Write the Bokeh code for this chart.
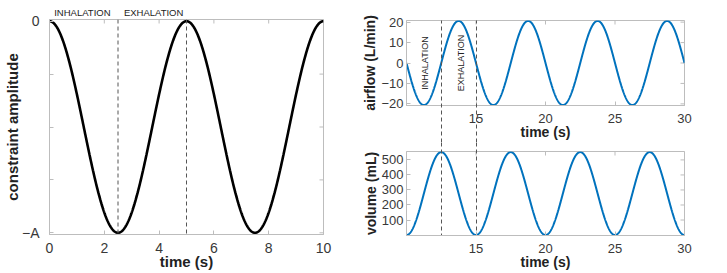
import numpy as np
from bokeh.plotting import figure
from bokeh.layouts import row, column
from bokeh.models import (FixedTicker, Label, LinearAxis, Range1d, Span,
                          CustomLabelingPolicy)
from bokeh.embed import file_html
from bokeh.resources import INLINE

# ---------------- data ----------------
# left panel: constraint amplitude, a cosine between 0 and -A
left_period = 5.0            # s
left_amplitude = 1.0         # "A"
left_t_start = 0.0
left_t_end = 10.0
left_xticks = [0, 2, 4, 6, 8, 10]
left_yticks = [-1.0, -0.75, -0.5, -0.25, 0.0]
left_ytick_labels = ["−A", "", "", "", "0"]
left_phase_lines = [2.5, 5.0]
left_phase_label_t = [1.2, 3.8]
phase_names = ["INHALATION", "EXHALATION"]

# right panels: airflow and volume
resp_period = 5.0            # s
resp_t_start = 10.0
resp_t_end = 30.0
airflow_amplitude = 20.6     # L/min
airflow_limit = 20.8
volume_peak = 552.0          # mL
volume_limit = 556.0
right_xticks = [15, 20, 25, 30]
airflow_yticks = [-20, -10, 0, 10, 20]
volume_yticks = [100, 200, 300, 400, 500]
right_phase_lines = [12.5, 15.0]
right_phase_label_t = [11.3, 13.9]

# ---------------- styling ----------------
FONT = "Liberation Sans"
TICK_COLOR = "#383838"
BOX_COLOR = "#bdbdbd"
BLUE = "#0072BD"
DASH_COLOR = "#555555"
DASH = "4 3"
HIDE_ALL = CustomLabelingPolicy(code="return new Set()")


def style(p, xlabel, ylabel, tick_size="13px", label_size="14px"):
    p.xgrid.visible = False
    p.ygrid.visible = False
    p.outline_line_color = BOX_COLOR
    p.outline_line_width = 1
    p.background_fill_color = "white"
    p.border_fill_color = "white"
    for ax in (p.xaxis[0], p.yaxis[0]):
        ax.axis_line_color = BOX_COLOR
        ax.major_tick_line_color = BOX_COLOR
        ax.major_tick_in = 4
        ax.major_tick_out = 0
        ax.minor_tick_line_color = None
        ax.major_label_text_font = FONT
        ax.major_label_text_font_size = tick_size
        ax.major_label_text_color = TICK_COLOR
        ax.axis_label_text_font = FONT
        ax.axis_label_text_font_size = label_size
        ax.axis_label_text_font_style = "bold"
        ax.axis_label_text_color = "#222222"
    p.xaxis[0].axis_label = xlabel
    p.yaxis[0].axis_label = ylabel
    p.xaxis[0].major_label_standoff = 8
    p.xaxis[0].axis_label_standoff = -2
    p.yaxis[0].major_label_standoff = 3
    p.yaxis[0].axis_label_standoff = 0


def box_ticks(p, xticks, yticks):
    # inward tick marks on the top and right edges of the box
    top = p.y_range.end
    right = p.x_range.end
    p.scatter(xticks, [top] * len(xticks), marker="dash", angle=np.pi / 2,
              size=8, line_color=BOX_COLOR, line_width=1)
    p.scatter([right] * len(yticks), yticks, marker="dash",
              size=8, line_color=BOX_COLOR, line_width=1)


def dashed_axis(ticks, tick_in, tick_out):
    ax = LinearAxis(ticker=FixedTicker(ticks=ticks))
    ax.axis_line_color = None
    ax.major_tick_line_color = DASH_COLOR
    ax.major_tick_line_dash = DASH
    ax.major_tick_line_width = 1
    ax.major_tick_in = tick_in
    ax.major_tick_out = tick_out
    ax.minor_tick_line_color = None
    ax.major_label_text_font_size = "0px"
    ax.major_label_standoff = 0
    ax.major_label_policy = HIDE_ALL
    return ax


# ---------------- left panel ----------------
t_left = np.linspace(left_t_start, left_t_end, 801)
constraint = -left_amplitude * (1 - np.cos(2 * np.pi * t_left / left_period)) / 2

p1 = figure(width=359, height=272, output_backend="svg", toolbar_location=None,
            x_range=Range1d(left_t_start, left_t_end),
            y_range=Range1d(-left_amplitude * 1.008, 0.008),
            min_border_left=41, min_border_right=36,
            min_border_top=19, min_border_bottom=37)
style(p1, "time (s)", "constraint amplitude", tick_size="14px", label_size="15px")
p1.xaxis[0].major_label_standoff = 8
p1.xaxis[0].axis_label_standoff = -3
p1.yaxis[0].major_label_standoff = 10
p1.yaxis[0].axis_label_standoff = -2
p1.xaxis[0].ticker = FixedTicker(ticks=left_xticks)
p1.yaxis[0].ticker = FixedTicker(ticks=left_yticks)
p1.yaxis[0].major_label_overrides = {v: s for v, s in zip(left_yticks, left_ytick_labels)}
box_ticks(p1, left_xticks, left_yticks)

phase_axis = LinearAxis(ticker=FixedTicker(ticks=left_phase_label_t))
phase_axis.major_label_overrides = {v: s for v, s in zip(left_phase_label_t, phase_names)}
phase_axis.axis_line_color = None
phase_axis.major_tick_line_color = None
phase_axis.minor_tick_line_color = None
phase_axis.major_tick_out = 0
phase_axis.major_tick_in = 0
phase_axis.major_label_standoff = 2
phase_axis.major_label_text_font = FONT
phase_axis.major_label_text_font_size = "9.5px"
phase_axis.major_label_text_color = "#222222"
p1.add_layout(phase_axis, "above")

for tv in left_phase_lines:
    p1.add_layout(Span(location=tv, dimension="height", line_color=DASH_COLOR,
                       line_width=1, line_dash=DASH))
p1.line(t_left, constraint, line_color="black", line_width=2.6)

# ---------------- right top: airflow ----------------
t_resp = np.linspace(resp_t_start, resp_t_end, 1601)
airflow = -airflow_amplitude * np.sin(2 * np.pi * (t_resp - resp_t_start) / resp_period)
volume = volume_peak * (1 - np.cos(2 * np.pi * (t_resp - resp_t_start) / resp_period)) / 2

TOP_H, TOP_TOP, TOP_XAXIS = 142, 20, 37
TOP_FRAME = TOP_H - TOP_TOP - TOP_XAXIS
p2 = figure(width=335, height=TOP_H, output_backend="svg", toolbar_location=None,
            x_range=Range1d(resp_t_start, resp_t_end),
            y_range=Range1d(-airflow_limit, airflow_limit),
            min_border_left=43, min_border_right=10,
            min_border_top=TOP_TOP, min_border_bottom=TOP_XAXIS)
style(p2, "time (s)", "airflow (L/min)")
p2.xaxis[0].ticker = FixedTicker(ticks=right_xticks)
p2.yaxis[0].ticker = FixedTicker(ticks=airflow_yticks)
box_ticks(p2, right_xticks, airflow_yticks)
p2.add_layout(dashed_axis(right_phase_lines, TOP_XAXIS + TOP_FRAME, 0), "below")
p2.line(t_resp, airflow, line_color=BLUE, line_width=2)
for name, tv in zip(phase_names, right_phase_label_t):
    p2.add_layout(Label(x=tv, y=0, text=name, angle=np.pi / 2, text_align="center",
                        text_baseline="middle", text_font=FONT,
                        text_font_size="9px", text_color="#222222"))

# ---------------- right bottom: volume ----------------
BOT_H, BOT_TOP, BOT_XAXIS = 130, 9, 37
BOT_FRAME = BOT_H - BOT_TOP - BOT_XAXIS
p3 = figure(width=335, height=BOT_H, output_backend="svg", toolbar_location=None,
            x_range=p2.x_range, y_range=Range1d(-3, volume_limit),
            min_border_left=43, min_border_right=10,
            min_border_top=BOT_TOP, min_border_bottom=BOT_XAXIS)
style(p3, "time (s)", "volume (mL)")
p3.xaxis[0].ticker = FixedTicker(ticks=right_xticks)
p3.yaxis[0].ticker = FixedTicker(ticks=volume_yticks)
box_ticks(p3, right_xticks, volume_yticks)
p3.add_layout(dashed_axis(right_phase_lines, BOT_FRAME, BOT_TOP), "above")
p3.line(t_resp, volume, line_color=BLUE, line_width=2)

layout = row(p1, column(p2, p3, spacing=0), spacing=0)

open("out.html", "w").write(file_html(layout, INLINE))
